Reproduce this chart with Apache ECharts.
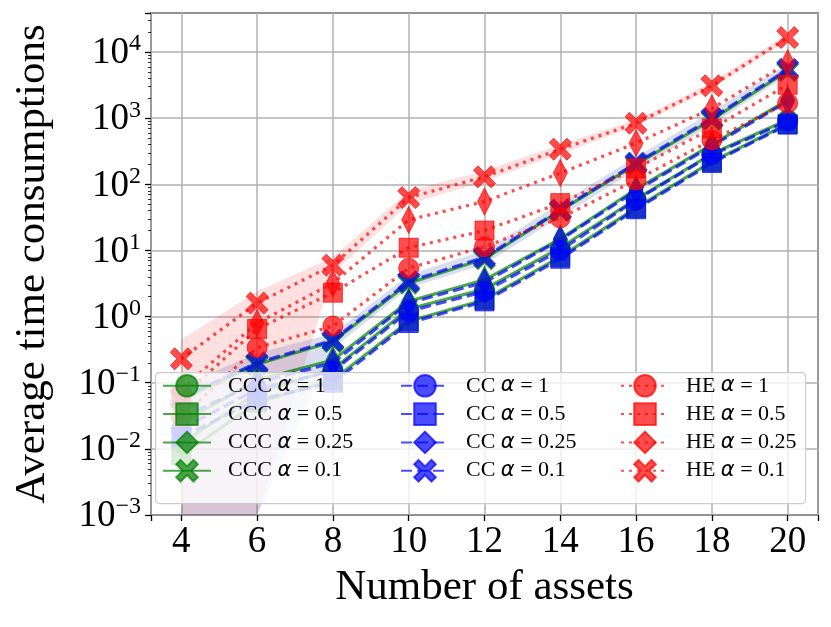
<!DOCTYPE html>
<html>
<head>
<meta charset="utf-8">
<script src="https://cdn.jsdelivr.net/npm/echarts@6/dist/echarts.min.js"></script>
<style>
  html, body, #main { width: 100%; height: 100%; margin: 0; background: #fff; }
</style>
</head>
<body>
<div id="main"></div>
<script>
// number of assets
var assets = [4, 6, 8, 10, 12, 14, 16, 18, 20];
var alphas = ['1', '0.5', '0.25', '0.1'];
var yTicks = [-3, -2, -1, 0, 1, 2, 3, 4];

// CCC (green, solid)
var cccA1   = [0.012, 0.07, 0.16, 1.3, 2.6, 11, 60, 290, 950];
var cccA05  = [0.008, 0.05, 0.11, 0.85, 1.8, 8, 44, 220, 820];
var cccA025 = [0.025, 0.11, 0.22, 1.7, 3.6, 15, 85, 400, 1900];
var cccA01  = [0.055, 0.19, 0.42, 3.2, 7.5, 40, 200, 950, 5200];

// CC (blue, dashed)
var ccA1   = [0.02, 0.08, 0.15, 1.2, 2.4, 10, 58, 280, 900];
var ccA05  = [0.015, 0.055, 0.1, 0.8, 1.7, 7.5, 42, 210, 800];
var ccA025 = [0.03, 0.1, 0.2, 1.6, 3.3, 14.5, 80, 380, 1800];
var ccA01  = [0.06, 0.2, 0.44, 3.4, 7.9, 41, 210, 1000, 5500];

// HE (red, dotted)
var heA1   = [0.03, 0.34, 0.72, 5.4, 11.4, 31, 116, 470, 1700];
var heA05  = [0.06, 0.65, 2.3, 11, 20, 52, 174, 700, 3200];
var heA025 = [0.08, 0.8, 3.2, 29, 55, 148, 420, 1400, 6800];
var heA01  = [0.23, 1.6, 6.0, 63, 130, 340, 840, 3100, 16600];

// shaded spread bands
var heBandLo = [0.001, 0.001, 4.5, 50, 110, 290, 750, 2800, 15000];
var heBandHi = [0.45, 2.4, 7.9, 80, 160, 400, 950, 3500, 19000];
var ccBandLo = [0.001, 0.001, 0.33, 2.7, 6.2, 32, 165, 800, 4500];
var ccBandHi = [0.09, 0.28, 0.55, 4.3, 10, 52, 260, 1250, 6800];

var chart = echarts.init(document.getElementById('main'));

var xMark = 'path://M2,0L5,3L8,0L10,2L7,5L10,8L8,10L5,7L2,10L0,8L3,5L0,2Z';
var symbols = [['circle', 20], ['rect', 19], ['diamond', [14, 27]], [xMark, 22]];

function pairs(vals) {
    return assets.map(function (x, i) { return [x, vals[i]]; });
}

function makeSeries(prefix, sets, color, dash) {
    return sets.map(function (vals, k) {
        return {
            type: 'line',
            name: prefix + ' α = ' + alphas[k],
            data: pairs(vals),
            symbol: symbols[k][0],
            symbolSize: symbols[k][1],
            lineStyle: { color: color, width: 3.2, type: dash, opacity: 0.7 },
            itemStyle: { color: color, opacity: 0.7, borderColor: color, borderWidth: 1 },
            emphasis: { disabled: true },
            animation: false
        };
    });
}

function band(lo, hi, fill) {
    return {
        type: 'custom',
        silent: true,
        animation: false,
        z: 1,
        data: [[assets[0], hi[0]]],
        encode: { x: 0, y: 1 },
        renderItem: function (params, api) {
            var pts = [];
            assets.forEach(function (x, i) { pts.push(api.coord([x, hi[i]])); });
            for (var i = assets.length - 1; i >= 0; i--) {
                pts.push(api.coord([assets[i], lo[i]]));
            }
            return {
                type: 'polygon',
                shape: { points: echarts.graphic.clipPointsByRect(pts, params.coordSys) },
                style: { fill: fill }
            };
        }
    };
}

var serif = 'Liberation Serif';

function legendAt(left, names) {
    return {
        orient: 'vertical',
        left: left,
        top: 374,
        padding: 0,
        zlevel: 1,
        z: 4,
        itemWidth: 48,
        itemHeight: 27,
        itemGap: 4.7,
        selectedMode: false,
        data: names,
        formatter: function (name) {
            var parts = name.split(' α ');
            return '{n0|' + parts[0] + ' }{a|α}{n| ' + parts[1] + '}';
        },
        textStyle: {
            color: '#000',
            fontFamily: serif,
            fontSize: 22,
            rich: {
                n0: { fontFamily: serif, fontSize: 22, padding: [0, 0, 0, 12] },
                n: { fontFamily: serif, fontSize: 22 },
                a: { fontFamily: 'DejaVu Sans', fontStyle: 'italic', fontSize: 21 }
            }
        }
    };
}

var cccSeries = makeSeries('CCC', [cccA1, cccA05, cccA025, cccA01], '#008000', 'solid');
var ccSeries = makeSeries('CC', [ccA1, ccA05, ccA025, ccA01], '#0000ff', [11, 5]);
var heSeries = makeSeries('HE', [heA1, heA05, heA025, heA01], '#ff0000', [3, 5]);

chart.setOption({
    backgroundColor: '#fff',
    animation: false,
    grid: {
        left: 151, right: 13, top: 13, bottom: 112,
        show: true, borderColor: '#000', borderWidth: 1.3, backgroundColor: 'transparent'
    },
    xAxis: {
        type: 'value',
        min: 3.2,
        max: 20.8,
        splitNumber: 9,
        name: 'Number of assets',
        nameLocation: 'middle',
        nameGap: 50,
        nameTextStyle: { fontFamily: serif, fontSize: 43, color: '#000' },
        axisLine: { show: false },
        axisTick: { show: true, length: 6, inside: false, lineStyle: { color: '#000', width: 1.3 } },
        axisLabel: {
            margin: 9,
            fontFamily: serif, fontSize: 37, color: '#000',
            formatter: function (v) {
                return (Math.abs(v - Math.round(v)) < 1e-6 && Math.round(v) % 2 === 0) ? String(Math.round(v)) : '';
            }
        },
        splitLine: { show: true, lineStyle: { color: '#b0b0b0', width: 1.5 } }
    },
    yAxis: {
        type: 'log',
        logBase: 10,
        min: 0.001,
        max: 39000,
        splitNumber: 8,
        name: 'Average time consumptions',
        nameLocation: 'middle',
        nameGap: 97,
        nameTextStyle: { fontFamily: serif, fontSize: 43, color: '#000' },
        axisLine: { show: false },
        axisTick: { show: true, length: 6, lineStyle: { color: '#000', width: 1.3 } },
        minorTick: { show: true, splitNumber: 9, length: 3, lineStyle: { color: '#000', width: 0.8 } },
        axisLabel: {
            margin: 10,
            color: '#000',
            formatter: function (v) {
                var e = Math.log10(v);
                var r = Math.round(e);
                if (Math.abs(e - r) > 1e-6 || yTicks.indexOf(r) < 0) return '';
                var s = String(r).replace('-', '\u2212');
                return '{b|10}{e|' + s + '}';
            },
            rich: {
                b: { fontFamily: serif, fontSize: 37, color: '#000', verticalAlign: 'bottom' },
                e: { fontFamily: serif, fontSize: 24, color: '#000', verticalAlign: 'top', padding: [0, 0, 16, 0] }
            }
        },
        splitLine: { show: true, lineStyle: { color: '#b0b0b0', width: 1.5 } }
    },
    legend: [
        legendAt(162, cccSeries.map(function (s) { return s.name; })),
        legendAt(400, ccSeries.map(function (s) { return s.name; })),
        legendAt(620, heSeries.map(function (s) { return s.name; }))
    ],
    graphic: [{
        type: 'rect',
        left: 155, top: 372,
        zlevel: 1,
        z: 0,
        shape: { width: 650, height: 131, r: 4 },
        style: { fill: 'rgba(255,255,255,0.8)', stroke: '#cccccc', lineWidth: 1.2 }
    }],
    series: [
        band(heBandLo, heBandHi, 'rgba(255,0,0,0.12)'),
        band(ccBandLo, ccBandHi, 'rgba(60,90,170,0.2)')
    ].concat(cccSeries, ccSeries, heSeries)
});
</script>
</body>
</html>
